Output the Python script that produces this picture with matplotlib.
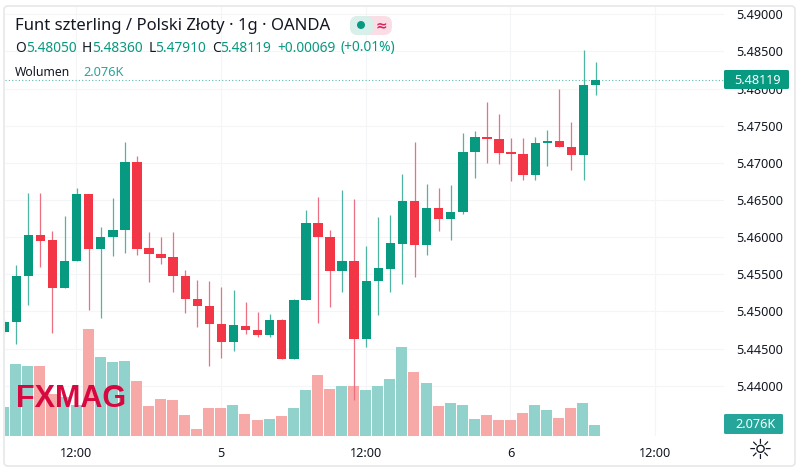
import matplotlib
matplotlib.use("Agg")
import numpy as np
import matplotlib.pyplot as plt
from matplotlib.patches import FancyBboxPatch, Circle
from matplotlib.transforms import IdentityTransform

opens = [5.44727, 5.44857, 5.45476, 5.46024, 5.45957, 5.45319, 5.45678, 5.46576, 5.45844, 5.46001,
         5.46091, 5.47011, 5.45849, 5.45776, 5.45728, 5.45480, 5.45167, 5.45077, 5.44830, 5.44592,
         5.44807, 5.44754, 5.44678, 5.44884, 5.44363, 5.45153, 5.46194, 5.46001, 5.45548, 5.45678,
         5.44633, 5.45409, 5.45575, 5.45911, 5.46482, 5.45894, 5.46392, 5.46239, 5.46334, 5.47145,
         5.47347, 5.47324, 5.47141, 5.47118, 5.46840, 5.47262, 5.47297, 5.47217, 5.47105, 5.48050]
closes = [5.44861, 5.45476, 5.46024, 5.45951, 5.45319, 5.45678, 5.46576, 5.45844, 5.46005, 5.46095,
          5.47011, 5.45844, 5.45772, 5.45723, 5.45480, 5.45163, 5.45077, 5.44830, 5.44592, 5.44813,
          5.44750, 5.44678, 5.44884, 5.44363, 5.45157, 5.46194, 5.46001, 5.45548, 5.45678, 5.44633,
          5.45413, 5.45580, 5.45916, 5.46482, 5.45894, 5.46392, 5.46239, 5.46338, 5.47149, 5.47347,
          5.47320, 5.47132, 5.47114, 5.46840, 5.47266, 5.47297, 5.47213, 5.47105, 5.48047, 5.48119]
highs = [5.44900, 5.45628, 5.46597, 5.46589, 5.46082, 5.46284, 5.46657, 5.46576, 5.46132, 5.46522,
         5.47276, 5.47091, 5.46064, 5.46005, 5.46073, 5.45557, 5.45422, 5.45413, 5.45324, 5.45288,
         5.45126, 5.44992, 5.44965, 5.44894, 5.45167, 5.46365, 5.46540, 5.46095, 5.46630, 5.46517,
         5.45880, 5.46270, 5.46301, 5.46845, 5.47280, 5.46711, 5.46661, 5.46701, 5.47397, 5.47428,
         5.47818, 5.47657, 5.47330, 5.47330, 5.47343, 5.47445, 5.47989, 5.47553, 5.48518, 5.48360]
lows = [5.44700, 5.44557, 5.45086, 5.45602, 5.44709, 5.45319, 5.45678, 5.45023, 5.44907, 5.45746,
        5.45782, 5.45755, 5.45392, 5.45634, 5.45261, 5.44982, 5.44790, 5.44269, 5.44377, 5.44471,
        5.44700, 5.44651, 5.44651, 5.44363, 5.44363, 5.45149, 5.44848, 5.45055, 5.45265, 5.43807,
        5.44525, 5.44955, 5.45265, 5.45373, 5.45459, 5.45755, 5.46086, 5.45961, 5.46311, 5.46799,
        5.46993, 5.46984, 5.46759, 5.46768, 5.46768, 5.46957, 5.47209, 5.46907, 5.46772, 5.47910]
# wolumen w tysiacach
volumes = [5.31, 13.13, 12.82, 12.82, 7.75, 7.20, 5.60, 19.54, 14.47, 13.49,
           13.80, 10.01, 5.43, 6.78, 6.66, 3.85, 1.34, 5.07, 5.19, 5.74,
           3.97, 2.87, 3.05, 3.60, 5.07, 8.43, 11.24, 8.67, 9.22, 9.22,
           8.43, 9.22, 10.38, 16.30, 11.78, 9.77, 5.43, 6.11, 5.62, 3.05,
           3.85, 2.87, 2.87, 4.27, 5.74, 4.82, 3.30, 5.07, 5.98, 2.076]
vol_up = [1, 1, 1, 0, 0, 1, 1, 0, 1, 1, 1, 0, 0, 0, 0, 0, 0, 0, 0, 1, 0, 0, 1, 0, 1,
          1, 0, 0, 1, 0, 1, 1, 1, 1, 0, 1, 0, 1, 1, 1, 0, 0, 0, 0, 1, 1, 0, 0, 1, 1]

price_ticks = [5.44, 5.445, 5.45, 5.455, 5.46, 5.465, 5.47, 5.475, 5.48, 5.485, 5.49]
time_ticks = [6, 18, 30, 42, 54]
time_labels = ["12:00", "5", "12:00", "6", "12:00"]
last_price = 5.48119
last_volume = 2.076

GREEN = "#089981"
RED = "#f23645"
TXT = "#131722"
FONT = "Noto Sans"

W, H = 800, 471
fig = plt.figure(figsize=(W / 100, H / 100), dpi=100)
plt.rcParams["font.family"] = FONT

rect = [5 / W, (H - 436) / H, 719 / W, 429 / H]
xlim = (0.116, 59.69)
ylim = (5.43323, 5.49097)

# siatka i opisy osi na spodzie, potem wolumen, potem swiece
ax_grid = fig.add_axes(rect, zorder=0)
ax_vol = fig.add_axes(rect, zorder=1)
ax = fig.add_axes(rect, zorder=2)

for a in (ax_grid, ax_vol, ax):
    a.set_xlim(xlim)
    for s in a.spines.values():
        s.set_visible(False)
ax_grid.set_ylim(ylim)
ax.set_ylim(ylim)
ax_vol.set_ylim(0, 78.6)
ax_vol.patch.set_alpha(0)
ax.patch.set_alpha(0)
ax_vol.axis("off")
ax.axis("off")

ax_grid.set_xticks(time_ticks, time_labels)
ax_grid.set_yticks(price_ticks, [f"{p:.5f}" for p in price_ticks])
ax_grid.yaxis.tick_right()
ax_grid.tick_params(axis="both", length=0, labelsize=9.1, labelcolor=TXT)
ax_grid.tick_params(axis="y", pad=9)
ax_grid.tick_params(axis="x", pad=8)
ax_grid.grid(color="#f4f5f6", lw=0.8)

x = np.arange(len(opens))
vol_colors = ["#92d2cc" if u else "#f7a9a7" for u in vol_up]
ax_vol.bar(x, volumes, width=0.91, color=vol_colors)
fig.text(71 / W, 1 - 399 / H, "FXMAG", color="#d6083f", fontsize=22, fontweight="bold",
         family="Liberation Sans", ha="center", va="center", zorder=1.5)

for i in range(len(opens)):
    up = closes[i] >= opens[i]
    c = GREEN if up else RED
    wick = "#4fb5a3" if up else "#ec6f84"
    ax.vlines(x[i] + 0.05, lows[i], highs[i], color=wick, lw=0.9, zorder=2)
    ax.bar(x[i] + 0.05, abs(closes[i] - opens[i]), bottom=min(opens[i], closes[i]), width=0.78, color=c, zorder=3)

ax.axhline(last_price, color="#5cb8a6", lw=0.8, ls=(0, (1, 2)), zorder=1)

# legenda u gory
fig.text(15 / W, 1 - 26 / H, "Funt szterling / Polski Złoty · 1g · OANDA", fontsize=12, color=TXT, va="center")


def row(px, py, parts, size=9.9):
    for txt, col in parts:
        t = fig.text(px / W, 1 - py / H, txt, fontsize=size, color=col, va="center")
        px += t.get_window_extent(fig.canvas.get_renderer()).width + (0 if col == TXT else 5.5)


row(15, 48, [("O", TXT), ("5.48050", GREEN), ("H", TXT), ("5.48360", GREEN), ("L", TXT), ("5.47910", GREEN),
             ("C", TXT), ("5.48119", GREEN), ("+0.00069", GREEN), ("(+0.01%)", GREEN)])
row(15, 72, [("Wolumen", TXT)], size=8.8)
fig.text(83 / W, 1 - 72 / H, "2.076K", fontsize=9.2, color="#26a69a", va="center")

identity = IdentityTransform()
fig.add_artist(FancyBboxPatch((350, H - 35), 42, 19, boxstyle="round,pad=0,rounding_size=8",
                              fc="#fbdde6", ec="none", transform=identity, zorder=3))
fig.add_artist(FancyBboxPatch((350, H - 35), 24, 19, boxstyle="round,pad=0,rounding_size=8",
                              fc="#d8efea", ec="none", transform=identity, zorder=3))
fig.add_artist(Circle((361, H - 25), 4, fc=GREEN, ec="none", transform=identity, zorder=4))
fig.text(381 / W, 1 - 25 / H, "≈", fontsize=10, color="#d6245c", ha="center", va="center",
         family="DejaVu Sans", fontweight="bold", zorder=4)

# ramka wykresu
fig.add_artist(FancyBboxPatch((4, H - 466), 791, 460, boxstyle="round,pad=0,rounding_size=4",
                              fc="none", ec="#e6e7ea", lw=1.2, transform=identity, zorder=5))

# etykiety ostatniej ceny i wolumenu
fig.add_artist(FancyBboxPatch((724, H - 89), 65, 19, boxstyle="round,pad=0,rounding_size=1.5",
                              fc=GREEN, ec="none", transform=identity, zorder=6))
fig.text(757 / W, 1 - 80 / H, f"{last_price:.5f}", color="white", fontsize=9.1, fontweight="bold",
         ha="center", va="center", zorder=7)
fig.add_artist(FancyBboxPatch((724, H - 434), 59, 20, boxstyle="round,pad=0,rounding_size=1.5",
                              fc="#26a69a", ec="none", transform=identity, zorder=6))
fig.text(756 / W, 1 - 424 / H, f"{last_volume:.3f}K", color="white", fontsize=9.1, fontweight="bold",
         ha="center", va="center", zorder=7)

fig.text(760 / W, 1 - 451 / H, "☼", fontsize=20, color=TXT, family="DejaVu Sans", ha="center", va="center")

fig.savefig("out.png", dpi=100)
